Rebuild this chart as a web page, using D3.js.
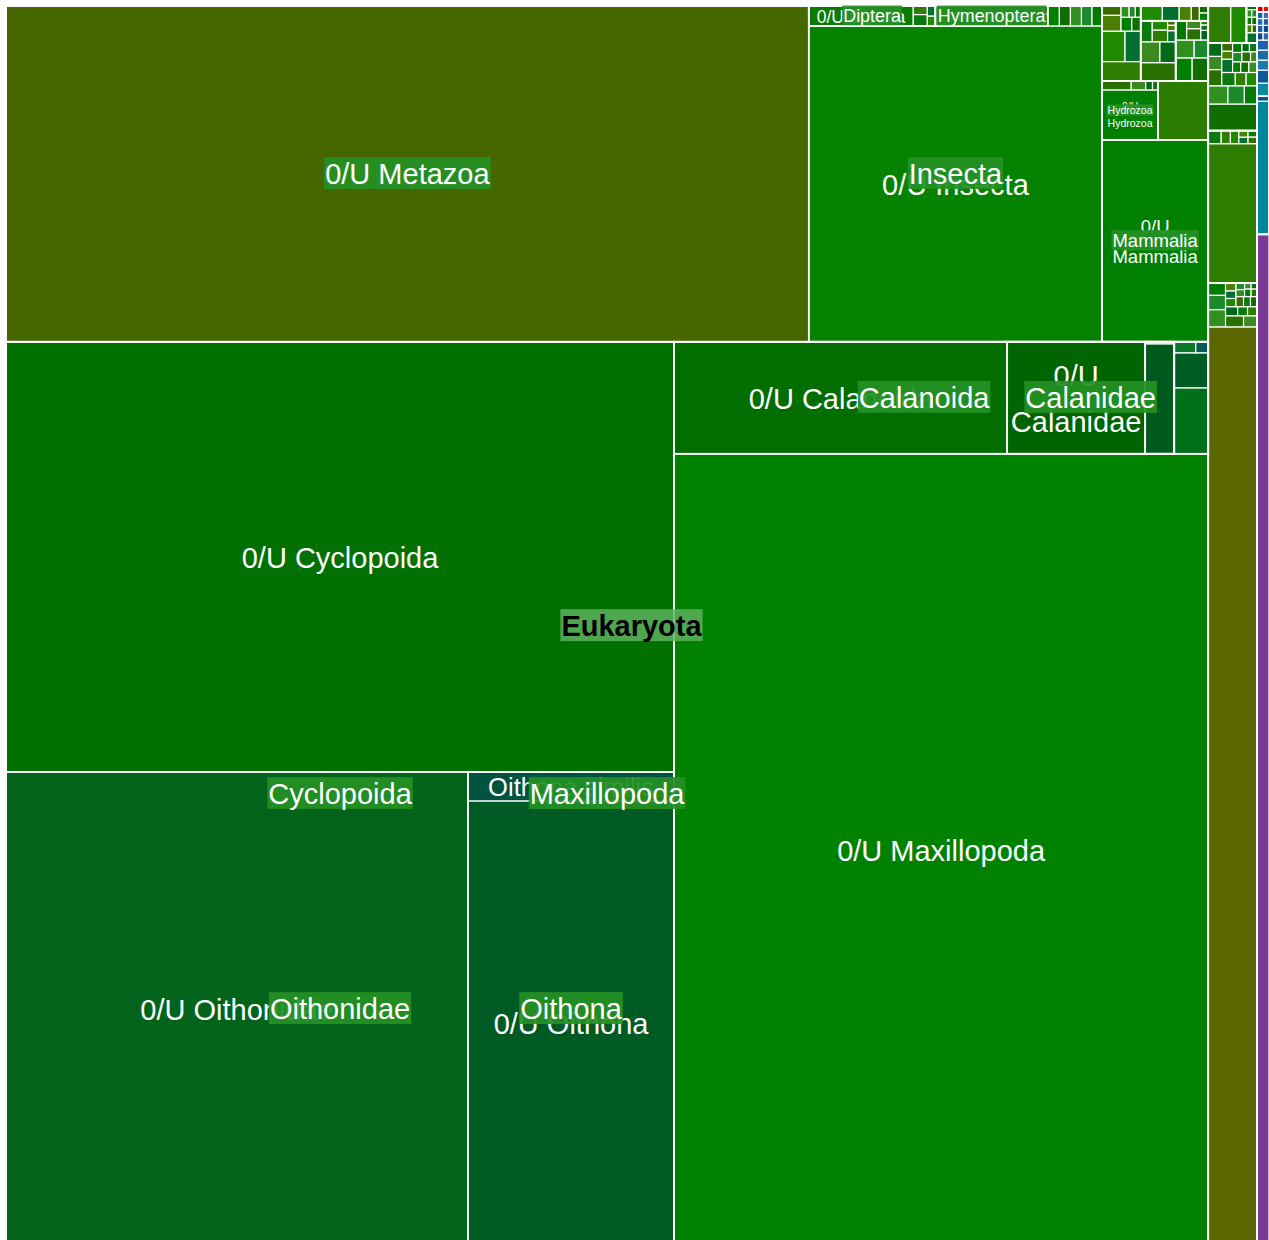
<!DOCTYPE html>
<html>
<head>
<meta charset="utf-8">
<script src="https://cdn.jsdelivr.net/npm/d3@7"></script>
<style>
body { margin: 0; background: #fff; overflow: hidden; }
text { font-family: "Liberation Sans", Arial, sans-serif; }
</style>
</head>
<body>
<div id="chart"></div>
<script>
var svg_width = 1269;
var svg_height = 1240;

// ranks that hold other taxa: [taxon, parent]
var ranks = [
    ["Root", ""],
    ["Eukaryota", "Root"],
    ["Bacteria", "Root"],
    ["Viruses", "Root"],
    ["Proteobacteria", "Bacteria"],
    ["Metazoa", "Eukaryota"],
    ["Viridiplantae", "Eukaryota"],
    ["Fungi", "Eukaryota"],
    ["Alveolata", "Eukaryota"],
    ["Stramenopiles", "Eukaryota"],
    ["Rhizaria", "Eukaryota"],
    ["Maxillopoda", "Metazoa"],
    ["Insecta", "Metazoa"],
    ["Mammalia", "Metazoa"],
    ["Hydrozoa", "Metazoa"],
    ["Annelida", "Metazoa"],
    ["Mollusca", "Metazoa"],
    ["Echinodermata", "Metazoa"],
    ["Nematoda", "Metazoa"],
    ["Cyclopoida", "Maxillopoda"],
    ["Calanoida", "Maxillopoda"],
    ["Harpacticoida", "Maxillopoda"],
    ["Oithonidae", "Cyclopoida"],
    ["Oithona", "Oithonidae"],
    ["Calanidae", "Calanoida"],
    ["Calanus", "Calanidae"],
    ["Diptera", "Insecta"],
    ["Hymenoptera", "Insecta"]
];

// named taxa: [taxon, parent, reads]
var namedTaxa = [
    ["0/U Metazoa", "Metazoa", 269472],
    ["0/U Cyclopoida", "Cyclopoida", 287240],
    ["0/U Oithonidae", "Oithonidae", 218988],
    ["0/U Oithona", "Oithona", 91670],
    ["Oithona similis", "Oithona", 5974],
    ["0/U Maxillopoda", "Maxillopoda", 422928],
    ["0/U Calanoida", "Calanoida", 37296],
    ["0/U Calanidae", "Calanidae", 15456],
    ["0/U Calanus", "Calanus", 3190],
    ["0/U Insecta", "Insecta", 92588],
    ["0/U Diptera", "Diptera", 2080],
    ["0/U Hymenoptera", "Hymenoptera", 2140],
    ["0/U Mammalia", "Mammalia", 21412],
    ["0/U Hydrozoa", "Hydrozoa", 2800],
    ["0/U Chordata", "Metazoa", 2950],
    ["0/U Viridiplantae", "Viridiplantae", 44884],
    ["0/U Fungi", "Fungi", 6811],
    ["0/U Proteobacteria", "Proteobacteria", 1596],
    ["Unclassified", "Root", 12120]
];

// minor taxa (too small to label), reads per parent
var calanusMinor = [58];
var harpacticoidaMinor = [2244, 1190, 238, 136];
var dipteraMinor = [160, 120, 80, 80];
var hymenopteraMinor = [60, 40];
var insectaMinor = [230, 220, 220, 210, 200];
var hydrozoaMinor = [260, 130, 60, 50];
var annelidaMinor = [750, 700, 480, 300, 175, 150, 125, 90, 70, 60];
var molluscaMinor = [640, 400, 330, 240, 180, 140, 90, 45, 35];
var echinodermataMinor = [380, 370, 330, 250, 210, 160, 110, 70, 40, 30];
var nematodaMinor = [320, 250, 180, 120, 70, 60];
var viridiplantaeMinor = [300, 250, 210, 200, 150, 110, 90, 86, 86, 80, 80, 76, 70, 66, 60, 55, 50, 45, 38, 34];
var fungiMinor = [170, 120, 110, 60, 60, 60, 57];
var alveolataMinor = [1300, 360, 300, 230, 220, 180, 180, 180, 144, 144, 144, 87, 87, 87, 87, 87, 87, 87, 87, 65, 65, 65];
var stramenopilesMinor = [840, 580];
var rhizariaMinor = [110, 45, 40, 40, 40, 40, 39, 38];
var proteobacteriaMinor = [60];
var bacteriaMinor = [156, 156, 120, 120, 120, 46, 44, 44, 42, 42, 40, 40, 38];
var virusesMinor = [38, 34];

var minorSets = [
    ["Calanus", calanusMinor], ["Harpacticoida", harpacticoidaMinor],
    ["Diptera", dipteraMinor], ["Hymenoptera", hymenopteraMinor],
    ["Insecta", insectaMinor], ["Hydrozoa", hydrozoaMinor],
    ["Annelida", annelidaMinor], ["Mollusca", molluscaMinor],
    ["Echinodermata", echinodermataMinor], ["Nematoda", nematodaMinor],
    ["Viridiplantae", viridiplantaeMinor], ["Fungi", fungiMinor],
    ["Alveolata", alveolataMinor], ["Stramenopiles", stramenopilesMinor],
    ["Rhizaria", rhizariaMinor], ["Proteobacteria", proteobacteriaMinor],
    ["Bacteria", bacteriaMinor], ["Viruses", virusesMinor]
];

// labels drawn with a box over the centre of their rank
var boxedLabels = ["Eukaryota", "0/U Metazoa", "Maxillopoda", "Cyclopoida", "Oithonidae", "Oithona",
    "Calanoida", "Calanidae", "Insecta", "Diptera", "Hymenoptera", "Mammalia", "Hydrozoa"];

// colours
var taxonColors = {
    "0/U Metazoa": "#466700", "0/U Cyclopoida": "#007000", "0/U Oithonidae": "#02641b",
    "0/U Oithona": "#005a23", "Oithona similis": "#00533f", "0/U Maxillopoda": "#008200",
    "0/U Calanoida": "#036e00", "0/U Calanidae": "#006400", "0/U Calanus": "#005a1e",
    "0/U Insecta": "#058200", "0/U Diptera": "#087c00", "0/U Hymenoptera": "#007c00",
    "0/U Mammalia": "#008000", "0/U Hydrozoa": "#008000", "0/U Chordata": "#2a7d00",
    "0/U Viridiplantae": "#5a6600", "0/U Fungi": "#2e7d00", "0/U Proteobacteria": "#00869a",
    "Unclassified": "#7b3a96"
};
var greens = ["#1a8a2a", "#007a00", "#2a7000", "#3a8a20", "#006a1a", "#0a7a10", "#2e7d00",
    "#1f8a00", "#007030", "#4a8000", "#3a6a00", "#008000", "#106e00", "#2f8f1f"];
var minorPalettes = {
    "Bacteria": ["#0a8aa0", "#0a5a9a", "#1a7aaa", "#1a6aaa", "#2060b0", "#0a4f8c", "#2a6ab0",
                 "#1f5fa8", "#0a4a8a", "#1a72a8", "#2a58a8", "#0a6a9a", "#3a6ab8"],
    "Proteobacteria": ["#0b4f8e"],
    "Viruses": ["#d40000", "#e3120b"],
    "Harpacticoida": ["#00701a", "#005e24", "#0a7a2a", "#0a5a5a"],
    "Calanus": ["#3a8a5a"]
};

var rows = [];
ranks.forEach(function(r) { rows.push({name: r[0], parent: r[1], reads: 0}); });
namedTaxa.forEach(function(t) { rows.push({name: t[0], parent: t[1], reads: t[2]}); });
var k = 0;
minorSets.forEach(function(s) {
    s[1].forEach(function(v, i) {
        rows.push({name: s[0] + " #" + (i + 1), parent: s[0], reads: v, minor: i, order: k++});
    });
});

// the plot runs a little past the bottom edge of the picture
var W = 1263, H = 1240;
var x = d3.scaleLinear().domain([0, W]).range([6, 1269]);
// rows of the squarified layout are stacked from the bottom up
var y = d3.scaleLinear().domain([0, H]).range([1246, 6]);

var root = d3.stratify()
    .id(function(d) { return d.name; })
    .parentId(function(d) { return d.parent; })(rows)
    .sum(function(d) { return d.reads; })
    .sort(function(a, b) { return b.value - a.value; });

d3.treemap()
    .tile(d3.treemapSquarify.ratio(1))
    .size([W, H])(root);

var svg = d3.select("#chart").append("svg")
    .attr("width", svg_width)
    .attr("height", svg_height)
    .style("display", "block");

function rx(d) { return x(d.x0); }
function ry(d) { return y(d.y1); }
function rw(d) { return x(d.x1) - x(d.x0); }
function rh(d) { return y(d.y0) - y(d.y1); }

function fillOf(d) {
    if (taxonColors[d.data.name]) return taxonColors[d.data.name];
    var pal = minorPalettes[d.data.parent];
    if (pal) return pal[d.data.minor % pal.length];
    return greens[d.data.order % greens.length];
}

svg.append("g").selectAll("rect")
    .data(root.leaves())
    .enter().append("rect")
    .attr("x", rx).attr("y", ry)
    .attr("width", rw).attr("height", rh)
    .attr("fill", fillOf)
    .attr("stroke", "#fff")
    .attr("stroke-width", 1.2);

svg.append("g").selectAll("rect")
    .data(root.descendants().filter(function(d) { return d.children && d.depth > 0; }))
    .enter().append("rect")
    .attr("x", rx).attr("y", ry)
    .attr("width", rw).attr("height", rh)
    .attr("fill", "none")
    .attr("stroke", "#fff")
    .attr("stroke-width", 1.8);

// label fitting
var probe = svg.append("text").attr("visibility", "hidden");
function textWidth(s, size, bold) {
    probe.attr("font-size", size).attr("font-weight", bold ? "bold" : "normal").text(s);
    return probe.node().getComputedTextLength();
}
var fontSizes = [29, 18.5, 10.5];

function fitLeaf(name, w, h) {
    if (w < 54) return null;
    var words = name.split(" ");
    for (var i = 0; i < fontSizes.length; i++) {
        var s = Math.min(fontSizes[i], h * 0.88);
        if (textWidth(name, s) <= w - 4) return {size: s, lines: [name]};
        s = fontSizes[i];
        if (words.length > 1) {
            var lines = [words[0], words.slice(1).join(" ")];
            var widest = d3.max(lines, function(l) { return textWidth(l, s); });
            if (widest <= w - 4 && s * 3.2 <= h) return {size: s, lines: lines};
        }
    }
    return null;
}

var leafLabels = svg.append("g").attr("fill", "#fff");
root.leaves().forEach(function(d) {
    var fit = fitLeaf(d.data.name, rw(d), rh(d));
    if (!fit) return;
    var cx = rx(d) + rw(d) / 2, cy = ry(d) + rh(d) / 2;
    fit.lines.forEach(function(line, i) {
        var off = (i - (fit.lines.length - 1) / 2) * 1.6 * fit.size;
        leafLabels.append("text")
            .text(line)
            .attr("x", cx)
            .attr("y", cy + off)
            .attr("dy", "0.38em")
            .attr("text-anchor", "middle")
            .style("font-size", fit.size + "px");
    });
});

// boxed labels for ranks, deepest first so Eukaryota sits on top
var boxed = root.descendants()
    .filter(function(d) { return boxedLabels.indexOf(d.data.name) >= 0; })
    .sort(function(a, b) { return b.depth - a.depth; });

var boxLayer = svg.append("g");
boxed.forEach(function(d) {
    var bold = d.data.name === "Eukaryota";
    var w = rw(d), h = rh(d), size = null;
    for (var i = 0; i < fontSizes.length; i++) {
        var s = Math.min(fontSizes[i], h * 0.9);
        if (textWidth(d.data.name, s, bold) <= w + 2) { size = s; break; }
    }
    if (!size) return;
    var tw = textWidth(d.data.name, size, bold);
    var cx = rx(d) + w / 2, cy = ry(d) + h / 2;
    boxLayer.append("rect")
        .attr("x", cx - tw / 2 - 1)
        .attr("y", cy - 0.58 * size)
        .attr("width", tw + 2)
        .attr("height", 1.1 * size)
        .attr("fill", bold ? "rgb(95,178,95)" : "rgb(36,144,36)")
        .attr("opacity", bold ? 0.82 : 0.93);
    boxLayer.append("text")
        .text(d.data.name)
        .attr("x", cx)
        .attr("y", cy)
        .attr("dy", "0.35em")
        .attr("text-anchor", "middle")
        .attr("fill", bold ? "#000" : "#fff")
        .style("font-weight", bold ? "bold" : "normal")
        .style("font-size", size + "px");
});
probe.remove();
</script>
</body>
</html>
